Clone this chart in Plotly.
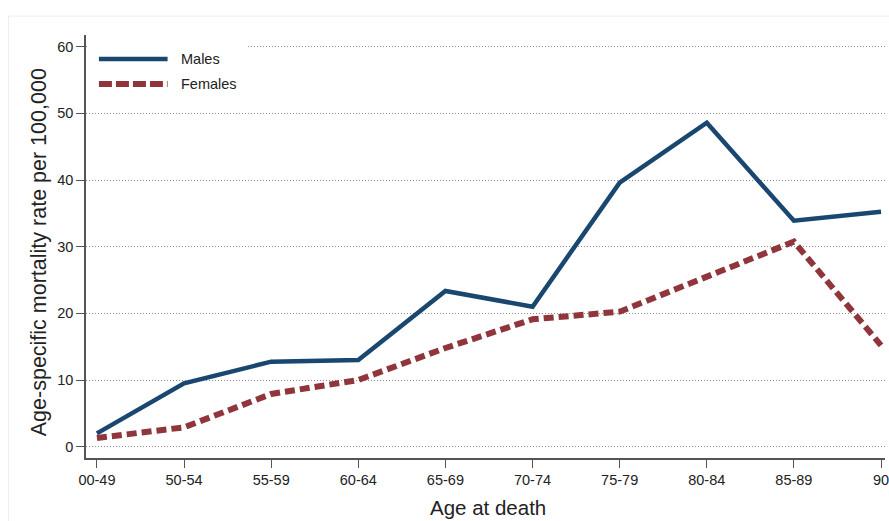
import plotly.graph_objects as go

# Age groups and age-specific mortality rates per 100,000
age_groups = ["00-49", "50-54", "55-59", "60-64", "65-69",
              "70-74", "75-79", "80-84", "85-89", "90"]
males = [2.0, 9.5, 12.75, 13.0, 23.35, 21.0, 39.6, 48.6, 33.9, 35.25]
females = [1.3, 2.9, 7.9, 10.0, 14.8, 19.1, 20.25, 25.5, 30.75, 15.2]
y_ticks = [0, 10, 20, 30, 40, 50, 60]

MALE_COLOR = "#1a476f"
FEMALE_COLOR = "#90353b"
AXIS_COLOR = "#555555"
TEXT_COLOR = "#222222"
FONT = "Liberation Sans, Arial, sans-serif"

W, H = 889, 521
L, R, T, B = 86, 0, 35, 63
plot_w = W - L - R
plot_h = H - T - B


def px_x(p):
    return (p - L) / plot_w


def px_y(p):
    return (H - B - p) / plot_h


idx = list(range(len(age_groups)))

fig = go.Figure()
fig.add_trace(go.Scatter(
    x=idx, y=males, mode="lines", name="Males",
    line=dict(color=MALE_COLOR, width=4.5),
    showlegend=False,
))
fig.add_trace(go.Scatter(
    x=idx, y=females, mode="lines", name="Females",
    line=dict(color=FEMALE_COLOR, width=6, dash="10px,5px"),
    showlegend=False,
))

step = 87.6
fig.update_xaxes(
    range=[-11 / step, len(age_groups) - 1 + 4 / step],
    tickmode="array", tickvals=idx, ticktext=age_groups,
    ticklabeloverflow="allow",
    showgrid=False, zeroline=False,
    showline=True, linecolor=AXIS_COLOR, linewidth=1.5,
    ticks="outside", ticklen=8, tickwidth=1.2, tickcolor=AXIS_COLOR,
    tickfont=dict(size=14.5, color=TEXT_COLOR, family=FONT),
)
fig.update_yaxes(
    range=[-1.7, 61.75],
    tickmode="array", tickvals=y_ticks,
    showgrid=True, gridcolor="#8a8a8a", gridwidth=1, griddash="1px,2px",
    zeroline=False,
    showline=True, linecolor=AXIS_COLOR, linewidth=1.5,
    ticks="outside", ticklen=8, tickwidth=1.2, tickcolor=AXIS_COLOR,
    tickfont=dict(size=14.5, color=TEXT_COLOR, family=FONT),
)

shapes = [
    # faint outer frame
    dict(type="rect", xref="paper", yref="paper",
         x0=px_x(8), x1=px_x(W + 20), y0=px_y(H + 20), y1=px_y(16),
         line=dict(color="#e6eeee", width=1), fillcolor="rgba(0,0,0,0)",
         layer="below"),
    # legend box
    dict(type="rect", xref="paper", yref="paper",
         x0=px_x(88), x1=px_x(248), y0=px_y(100), y1=px_y(36),
         line=dict(width=0), fillcolor="white", layer="above"),
    dict(type="line", xref="paper", yref="paper",
         x0=px_x(99), x1=px_x(168), y0=px_y(59), y1=px_y(59),
         line=dict(color=MALE_COLOR, width=4.5), layer="above"),
    dict(type="line", xref="paper", yref="paper",
         x0=px_x(99), x1=px_x(168), y0=px_y(84), y1=px_y(84),
         line=dict(color=FEMALE_COLOR, width=6, dash="13px,4px"),
         layer="above"),
]

annotations = [
    dict(text="Males", xref="paper", yref="paper", x=px_x(179), y=px_y(59),
         xanchor="left", yanchor="middle", showarrow=False,
         font=dict(size=14.5, color=TEXT_COLOR, family=FONT)),
    dict(text="Females", xref="paper", yref="paper", x=px_x(179), y=px_y(84),
         xanchor="left", yanchor="middle", showarrow=False,
         font=dict(size=14.5, color=TEXT_COLOR, family=FONT)),
    dict(text="Age-specific mortality rate per 100,000", xref="paper",
         yref="paper", x=px_x(39), y=px_y(252), textangle=-90,
         xanchor="center", yanchor="middle", showarrow=False,
         font=dict(size=21.5, color=TEXT_COLOR, family=FONT)),
    dict(text="Age at death", xref="paper", yref="paper",
         x=px_x(490), y=px_y(507), xanchor="center", yanchor="middle",
         showarrow=False, font=dict(size=20.5, color=TEXT_COLOR, family=FONT)),
]

fig.update_layout(
    width=W, height=H,
    margin=dict(l=L, r=R, t=T, b=B, pad=0),
    paper_bgcolor="white", plot_bgcolor="white",
    shapes=shapes, annotations=annotations,
    font=dict(family=FONT, color=TEXT_COLOR),
)

fig.write_html("out.html")
